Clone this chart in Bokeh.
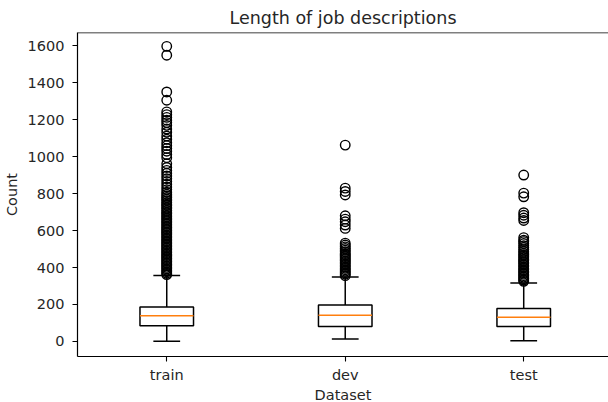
from bokeh.plotting import figure
from bokeh.models import Range1d, FixedTicker, Span, Title
from bokeh.embed import file_html
from bokeh.resources import INLINE

# ---- data ----
categories = ["train", "dev", "test"]
positions = [1, 2, 3]
lower_whisker = [0, 13, 3]
q1 = [85, 81, 81]
median = [139, 141, 130]
q3 = [186, 197, 178]
upper_whisker = [357, 348, 316]

train_outliers = [1598, 1550, 1351, 1306, 1243, 1228, 1213, 1198, 1185, 1170, 1150,
                  1133, 1112, 1095, 1076, 1060, 1045, 1030, 1012, 995, 962, 942, 926,
                  911, 896, 881, 866, 851, 836, 822, 808, 797, 788, 779, 770, 762, 752,
                  743, 736, 727, 718, 709, 700, 692, 684, 675, 667, 659, 650, 642, 634,
                  625, 617, 609, 601, 593, 585, 577, 569, 561, 553, 545, 537, 529, 521,
                  513, 505, 497, 489, 481, 473, 465, 457, 449, 441, 433, 425, 417, 409,
                  401, 393, 385, 377, 369, 362]
dev_outliers = [1063, 830, 812, 793, 680, 662, 648, 630, 612, 532, 522, 512, 503, 494,
                485, 476, 468, 460, 452, 444, 436, 428, 420, 412, 404, 396, 388, 380,
                372, 364, 356]
test_outliers = [901, 803, 783, 697, 683, 668, 655, 562, 548, 540, 530, 518, 508, 497,
                 488, 478, 470, 461, 452, 444, 436, 428, 420, 412, 404, 396, 388, 380,
                 372, 364, 356, 348, 340, 332, 325]
outliers = [train_outliers, dev_outliers, test_outliers]

y_ticks = [0, 200, 400, 600, 800, 1000, 1200, 1400, 1600]

BOX_W = 0.3
CAP_W = 0.15
FONT = "DejaVu Sans"
TXT = "#262626"

p = figure(width=608, height=402, output_backend="svg", toolbar_location=None,
           x_range=Range1d(0.5, 3.475), y_range=Range1d(-82, 1673),
           title="Length of job descriptions",
           min_border_left=69, min_border_right=0, min_border_top=24, min_border_bottom=0)

p.grid.visible = False
p.outline_line_color = None
p.background_fill_color = "white"
p.border_fill_color = "white"

p.title.text_font = FONT
p.title.text_font_size = "17.5px"
p.title.text_font_style = "normal"
p.title.align = "center"
p.title.text_color = TXT

for ax in (p.xaxis[0], p.yaxis[0]):
    ax.axis_line_color = "black"
    ax.axis_line_width = 1.2
    ax.major_tick_line_color = "black"
    ax.major_tick_line_width = 1.1
    ax.major_tick_out = 5
    ax.major_tick_in = 0
    ax.minor_tick_line_color = None
    ax.major_label_text_font = FONT
    ax.major_label_text_font_size = "14.5px"
    ax.major_label_text_color = TXT
    ax.axis_label_text_font = FONT
    ax.axis_label_text_font_size = "14.5px"
    ax.axis_label_text_font_style = "normal"
    ax.axis_label_text_color = TXT

p.xaxis.ticker = FixedTicker(ticks=positions)
p.xaxis.major_label_overrides = {pos: c for pos, c in zip(positions, categories)}
p.xaxis.major_label_standoff = 5

xlabel = Title(text="Dataset", align="center", text_font=FONT, text_font_size="14.5px",
               text_font_style="normal", text_color=TXT, standoff=-1, offset=0,
               text_line_height=0.6)
p.add_layout(xlabel, "below")

p.yaxis.ticker = FixedTicker(ticks=y_ticks)
p.yaxis.axis_label = "Count"
p.yaxis.major_label_standoff = 8
p.yaxis.axis_label_standoff = 5

# top spine
p.add_layout(Span(location=p.y_range.end, dimension="width", line_color="black", line_width=1.5))

# whiskers
p.segment(x0=positions, y0=q3, x1=positions, y1=upper_whisker, line_color="black", line_width=1.5)
p.segment(x0=positions, y0=q1, x1=positions, y1=lower_whisker, line_color="black", line_width=1.5)
# caps
p.segment(x0=[x - CAP_W / 2 for x in positions], y0=upper_whisker,
          x1=[x + CAP_W / 2 for x in positions], y1=upper_whisker, line_color="black", line_width=1.5)
p.segment(x0=[x - CAP_W / 2 for x in positions], y0=lower_whisker,
          x1=[x + CAP_W / 2 for x in positions], y1=lower_whisker, line_color="black", line_width=1.5)
# boxes
p.quad(left=[x - BOX_W / 2 for x in positions], right=[x + BOX_W / 2 for x in positions],
       bottom=q1, top=q3, fill_color=None, line_color="black", line_width=1.5)
# medians
p.segment(x0=[x - BOX_W / 2 for x in positions], y0=median,
          x1=[x + BOX_W / 2 for x in positions], y1=median, line_color="#ff7f0e", line_width=1.5)

# outliers
for pos, vals in zip(positions, outliers):
    p.scatter(x=[pos] * len(vals), y=vals, marker="circle", size=9.5,
              fill_color=None, line_color="black", line_width=1.4)

open("out.html", "w").write(file_html(p, INLINE))
